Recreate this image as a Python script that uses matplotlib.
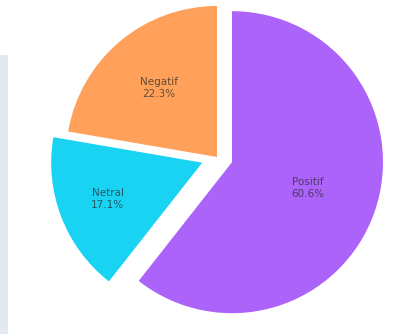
import numpy as np
import matplotlib
matplotlib.use('Agg')
import matplotlib.pyplot as plt
from matplotlib.patches import Rectangle

# Sentiment share
labels = ['Positif', 'Netral', 'Negatif']
shares = [60.6, 17.1, 22.3]
colors = ['#AB63FA', '#19D3F3', '#FFA15A']
pulls = [0.105, 0.105, 0.0]
text_dist = [0.53, 0.67, 0.60]

W, H = 401, 334
R = 151.0          # pie radius in pixels
cx, cy = 217, 157  # pie centre in pixels (from top-left)

fig = plt.figure(figsize=(W / 100, H / 100), dpi=100)
fig.patch.set_facecolor('white')

# light panel strip along the left edge
fig.patches.append(Rectangle((0, 0), 8 / W, (H - 55) / H, transform=fig.transFigure,
                             facecolor='#e4e8f0', edgecolor='none', zorder=0))

ax = fig.add_axes([0, 0, 1, 1])

wedges, _ = ax.pie(shares, explode=pulls, colors=colors, startangle=90,
                   counterclock=False, radius=1.0,
                   wedgeprops=dict(linewidth=0))

# pie() resets the limits, so set them afterwards
ax.set_xlim(-cx / R, (W - cx) / R)
ax.set_ylim(-(H - cy) / R, cy / R)
ax.set_aspect('equal')
ax.axis('off')

for w, lab, val, d in zip(wedges, labels, shares, text_dist):
    mid = np.deg2rad((w.theta1 + w.theta2) / 2)
    x = w.center[0] + d * np.cos(mid)
    y = w.center[1] + d * np.sin(mid)
    ax.text(x, y, f'{lab}\n{val:.1f}%', ha='center', va='center',
            fontsize=7.5, color='#2a2a2a', alpha=0.72, linespacing=1.25,
            family='DejaVu Sans')

plt.savefig('out.png', dpi=100)
